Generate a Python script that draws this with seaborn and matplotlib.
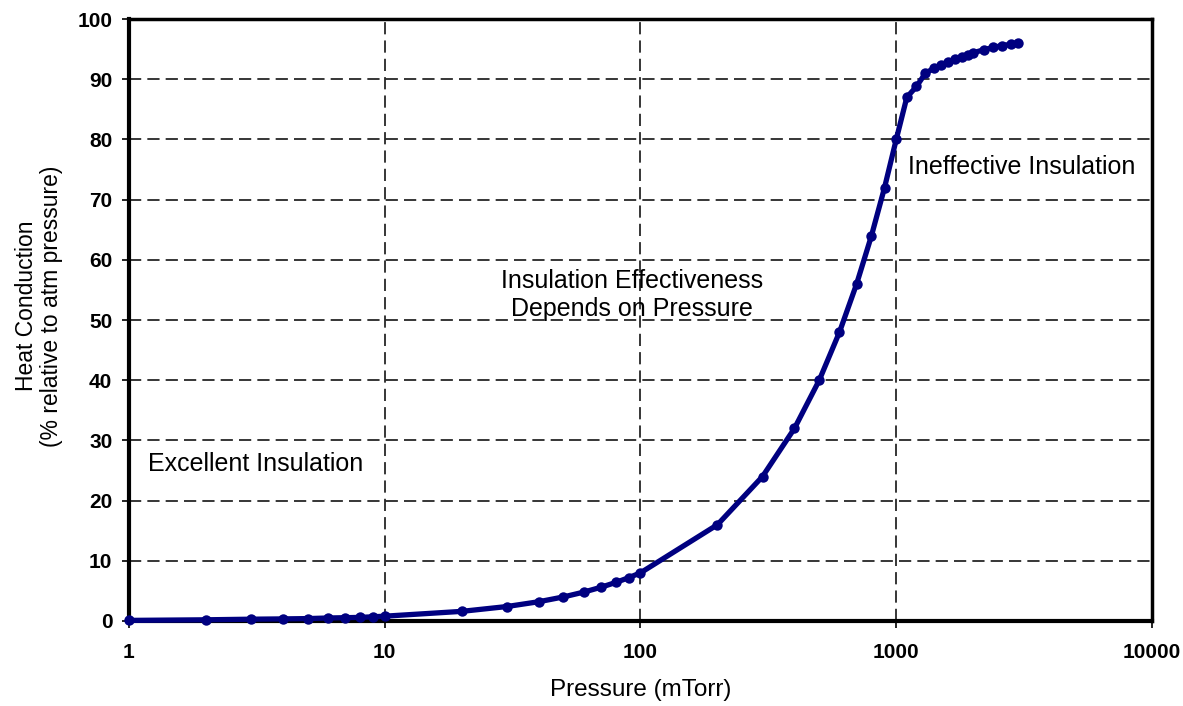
import numpy as np
import pandas as pd
import seaborn as sns
import matplotlib.pyplot as plt

# ---------------------- Data -------------------------------------------------
pressure = [1, 2, 3, 4, 5, 6, 7, 8, 9, 10,
            20, 30, 40, 50, 60, 70, 80, 90, 100,
            200, 300, 400, 500, 600, 700, 800, 900, 1000,
            1100, 1200, 1300, 1400, 1500, 1600, 1700, 1800, 1900, 2000,
            2200, 2400, 2600, 2800, 3000]
conduction = [0.1, 0.2, 0.3, 0.35, 0.4, 0.5, 0.55, 0.6, 0.7, 0.8,
              1.6, 2.4, 3.2, 4.0, 4.8, 5.6, 6.4, 7.2, 8.0,
              16, 24, 32, 40, 48, 56, 64, 72, 80,
              87, 88.8, 91, 91.8, 92.4, 92.9, 93.3, 93.7, 94.1, 94.4,
              94.9, 95.3, 95.6, 95.8, 96.0]

x_ticks = [1, 10, 100, 1000, 10000]
x_tick_labels = ["1", "10", "100", "1000", "10000"]
y_ticks = list(range(0, 101, 10))

df = pd.DataFrame({"Pressure": pressure, "Conduction": conduction})

# ------------------ Style ----------------------
sns.set_style("white")
plt.rcParams["font.family"] = ["Liberation Sans", "DejaVu Sans"]
plt.rcParams["text.color"] = "black"
plt.rcParams["axes.labelcolor"] = "black"
plt.rcParams["xtick.color"] = "black"
plt.rcParams["ytick.color"] = "black"

fig = plt.figure(figsize=(11.83, 7.06), dpi=100)
ax = fig.add_axes([0.109, 0.1204, 0.8648, 0.8526])

sns.lineplot(data=df, x="Pressure", y="Conduction", ax=ax, color="#000080",
             linewidth=3.8, marker="o", markersize=7.5, markeredgewidth=0,
             clip_on=False, zorder=5)

ax.set_xscale("log")
ax.set_xlim(1, 10000)
ax.set_ylim(0, 100)
ax.set_xticks(x_ticks)
ax.set_xticklabels(x_tick_labels)
ax.minorticks_off()
ax.set_yticks(y_ticks)

for lbl in ax.get_xticklabels() + ax.get_yticklabels():
    lbl.set_fontweight("bold")
    lbl.set_fontsize(15)

ax.tick_params(axis="both", direction="out", length=5, width=1.2,
               bottom=True, left=True)
ax.tick_params(axis="x", pad=11)
ax.tick_params(axis="y", pad=7)

ax.grid(True, which="major", color="black", linestyle=(0, (8, 4)), linewidth=1.1)
ax.set_axisbelow(True)

for side in ["left", "bottom"]:
    ax.spines[side].set_linewidth(3)
for side in ["top", "right"]:
    ax.spines[side].set_linewidth(2.5)
for s in ax.spines.values():
    s.set_color("black")

ax.set_xlabel("Pressure (mTorr)", fontsize=17.5, labelpad=12)
ax.set_ylabel("Heat Conduction\n(% relative to atm pressure)", fontsize=16.5,
              linespacing=1.15)
ax.yaxis.set_label_coords(-0.064, 0.523)

ax.text(1.19, 26.1, "Excellent Insulation", fontsize=18, ha="left", va="center")
ax.text(92.6, 54.2, "Insulation Effectiveness\nDepends on Pressure", fontsize=18,
        ha="center", va="center", linespacing=1.2)
ax.text(1112, 75.4, "Ineffective Insulation", fontsize=18, ha="left", va="center")

fig.savefig("out.png", dpi=100)
